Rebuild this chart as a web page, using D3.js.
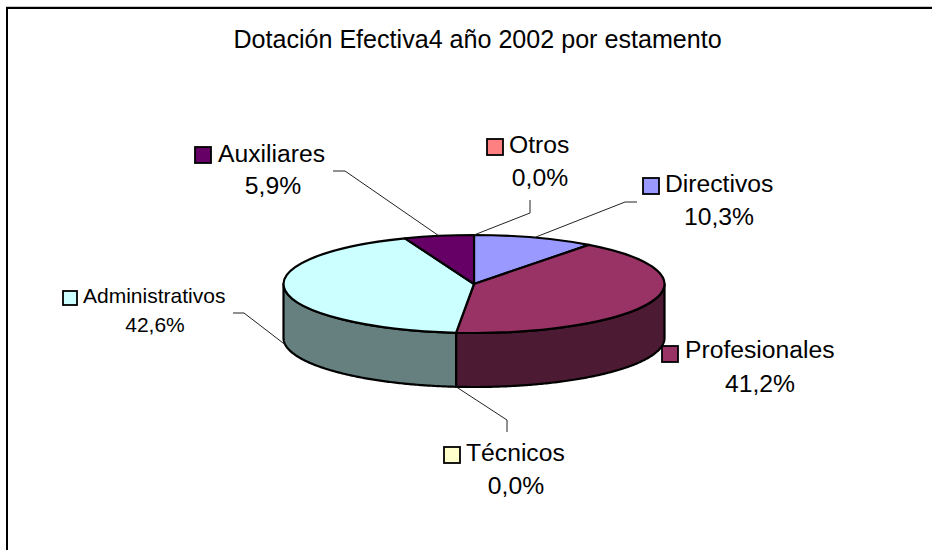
<!DOCTYPE html>
<html>
<head>
<meta charset="utf-8">
<script src="https://cdn.jsdelivr.net/npm/d3@7"></script>
<style>
  html, body { margin: 0; padding: 0; background: #fff; overflow: hidden; }
  text { font-family: "Liberation Sans", Arial, sans-serif; fill: #000; }
</style>
</head>
<body>
<svg width="932" height="550"></svg>
<script>
// Data
const TITLE = "Dotación Efectiva4 año 2002 por estamento";
const categories = ["Directivos", "Profesionales", "Técnicos", "Administrativos", "Auxiliares", "Otros"];
const shares = [10.3, 41.2, 0, 42.6, 5.9, 0];

// Colours and label placement, one row per category
const colors = ["#9999ff", "#993366", "#ffffcc", "#ccffff", "#660066", "#ff8080"];
const sideColors = ["#4d4d80", "#4d1a33", "#808066", "#668080", "#330033", "#804040"];
// swatch x, swatch y, swatch size, name x, name baseline, percent centre, percent baseline, font size
const labelLayout = [
  [643, 178, 16, 665, 192, 719, 225, 24.7],
  [662, 346, 16, 685, 358, 760, 392, 24.7],
  [444, 447, 16, 466, 461, 516, 494, 24.7],
  [63, 291, 14, 83, 303, 155, 332, 21],
  [195, 147, 16, 218, 162, 273, 194, 24.7],
  [487, 139, 16, 509, 153, 540, 186, 24.7],
];
// Leader lines: label end and elbow, the pie end comes from the slice angle
const leaderLayout = [
  [[637, 202], [625, 202]],
  null,
  [[507, 432], [507, 420]],
  [[233, 313], [244, 313]],
  [[333, 171], [345, 171]],
  [[530, 200], [530, 213]],
];

const CX = 474, CY = 284, RX = 190.5, RY = 49, DEPTH = 54;

const svg = d3.select("svg");

// Chart frame: only top and left edges are visible in the crop
svg.append("path")
  .attr("d", "M7,550V8H932")
  .attr("fill", "none")
  .attr("stroke", "#000")
  .attr("stroke-width", 2);
svg.append("line")
  .attr("x1", 6).attr("x2", 932).attr("y1", 6.5).attr("y2", 6.5)
  .attr("stroke", "#c8c8c8");

svg.append("text")
  .attr("x", 477.5)
  .attr("y", 48)
  .attr("text-anchor", "middle")
  .attr("font-size", 25.1)
  .text(TITLE);

const slices = d3.pie().sort(null).value(d => d)(shares)
  .map((d, i) => ({ ...d, i: i }));

const ellipse_x = a => CX + RX * Math.sin(a);
const ellipse_y = a => CY - RY * Math.cos(a);

// Side walls: only the part of the rim facing the viewer
const rim = d3.line();
function wall_path(d) {
  const a0 = Math.max(d.startAngle, Math.PI / 2),
    a1 = Math.min(d.endAngle, 3 * Math.PI / 2);
  const angles = d3.range(a0, a1, 0.01).concat(a1);
  const top = angles.map(a => [ellipse_x(a), ellipse_y(a)]);
  const bottom = angles.slice().reverse().map(a => [ellipse_x(a), ellipse_y(a) + DEPTH]);
  return rim(top.concat(bottom)) + "Z";
}

svg.append("g")
  .selectAll("path")
  .data(slices.filter(d => d.endAngle > d.startAngle && d.endAngle > Math.PI / 2 && d.startAngle < 3 * Math.PI / 2))
  .enter()
  .append("path")
    .attr("d", wall_path)
    .attr("fill", d => sideColors[d.i])
    .attr("stroke", "#000")
    .attr("stroke-width", 2.2)
    .attr("stroke-linejoin", "round");

// Top face: a normal d3 pie squashed into an ellipse
const arc = d3.arc().innerRadius(0).outerRadius(RX);
svg.append("g")
  .attr("transform", `translate(${CX},${CY}) scale(1,${RY / RX})`)
  .selectAll("path")
  .data(slices.filter(d => d.endAngle > d.startAngle))
  .enter()
  .append("path")
    .attr("d", arc)
    .attr("fill", d => colors[d.i])
    .attr("stroke", "#000")
    .attr("stroke-width", 2.2)
    .attr("stroke-linejoin", "round")
    .attr("vector-effect", "non-scaling-stroke");

// Leader lines
function leader_points(d) {
  const mid = (d.startAngle + d.endAngle) / 2,
    front = mid > Math.PI / 2 && mid < 3 * Math.PI / 2;
  return leaderLayout[d.i].concat([[ellipse_x(mid), ellipse_y(mid) + (front ? DEPTH : 0)]]);
}
svg.append("g")
  .selectAll("path")
  .data(slices.filter(d => leaderLayout[d.i]))
  .enter()
  .append("path")
    .attr("d", d => d3.line()(leader_points(d)))
    .attr("fill", "none")
    .attr("stroke", "#222")
    .attr("stroke-width", 1);

// Labels: swatch, name and percentage
const format_share = v => v.toFixed(1).replace(".", ",") + "%";
const labels = svg.append("g")
  .selectAll("g")
  .data(slices)
  .enter()
  .append("g");
labels.append("rect")
  .attr("x", d => labelLayout[d.i][0])
  .attr("y", d => labelLayout[d.i][1])
  .attr("width", d => labelLayout[d.i][2])
  .attr("height", d => labelLayout[d.i][2])
  .attr("fill", d => colors[d.i])
  .attr("stroke", "#000")
  .attr("stroke-width", 1.8);
labels.append("text")
  .attr("x", d => labelLayout[d.i][3])
  .attr("y", d => labelLayout[d.i][4])
  .attr("font-size", d => labelLayout[d.i][7])
  .text(d => categories[d.i]);
labels.append("text")
  .attr("x", d => labelLayout[d.i][5])
  .attr("y", d => labelLayout[d.i][6])
  .attr("text-anchor", "middle")
  .attr("font-size", d => labelLayout[d.i][7])
  .text(d => format_share(d.value));
</script>
</body>
</html>
